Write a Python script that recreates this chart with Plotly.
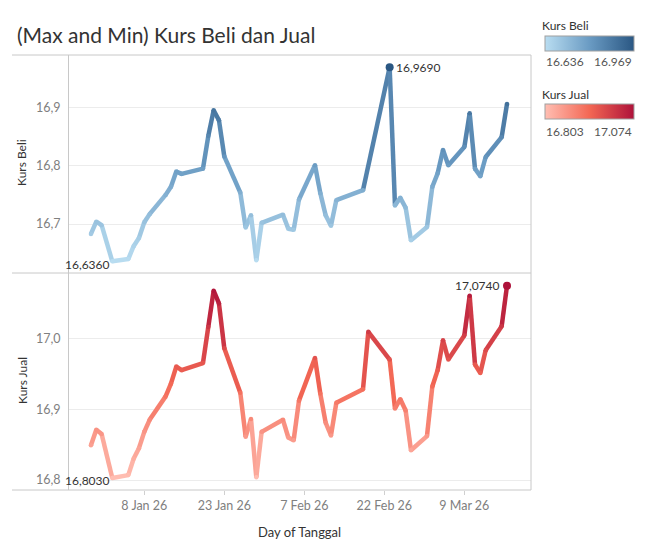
import plotly.graph_objects as go
from plotly.colors import sample_colorscale

# Kurs harian
tanggal_beli = [
    "2025-12-29", "2025-12-30", "2025-12-31", "2026-01-02", "2026-01-05",
    "2026-01-06", "2026-01-07", "2026-01-08", "2026-01-09", "2026-01-12",
    "2026-01-13", "2026-01-14", "2026-01-15", "2026-01-19", "2026-01-20",
    "2026-01-21", "2026-01-22", "2026-01-23", "2026-01-26", "2026-01-27",
    "2026-01-28", "2026-01-29", "2026-01-30", "2026-02-03", "2026-02-04",
    "2026-02-05", "2026-02-06", "2026-02-09", "2026-02-10", "2026-02-11",
    "2026-02-12", "2026-02-13", "2026-02-18", "2026-02-23", "2026-02-24",
    "2026-02-25", "2026-02-26", "2026-02-27", "2026-03-02", "2026-03-03",
    "2026-03-04", "2026-03-05", "2026-03-06", "2026-03-09", "2026-03-10",
    "2026-03-11", "2026-03-12", "2026-03-13", "2026-03-16", "2026-03-17",
]
kurs_beli = [
    16.683, 16.704, 16.698, 16.636, 16.640,
    16.662, 16.676, 16.703, 16.717, 16.750,
    16.764, 16.790, 16.786, 16.795, 16.851,
    16.895, 16.878, 16.816, 16.754, 16.694,
    16.715, 16.638, 16.702, 16.716, 16.692,
    16.690, 16.742, 16.801, 16.753, 16.715,
    16.697, 16.741, 16.758, 16.969, 16.732,
    16.745, 16.728, 16.672, 16.695, 16.764,
    16.787, 16.827, 16.801, 16.832, 16.890,
    16.795, 16.782, 16.815, 16.849, 16.906,
]

tanggal_jual = [
    "2025-12-29", "2025-12-30", "2025-12-31", "2026-01-02", "2026-01-05",
    "2026-01-06", "2026-01-07", "2026-01-08", "2026-01-09", "2026-01-12",
    "2026-01-13", "2026-01-14", "2026-01-15", "2026-01-19", "2026-01-20",
    "2026-01-21", "2026-01-22", "2026-01-23", "2026-01-26", "2026-01-27",
    "2026-01-28", "2026-01-29", "2026-01-30", "2026-02-03", "2026-02-04",
    "2026-02-05", "2026-02-06", "2026-02-09", "2026-02-10", "2026-02-11",
    "2026-02-12", "2026-02-13", "2026-02-18", "2026-02-19", "2026-02-23",
    "2026-02-24", "2026-02-25", "2026-02-26", "2026-02-27", "2026-03-02",
    "2026-03-03", "2026-03-04", "2026-03-05", "2026-03-06", "2026-03-09",
    "2026-03-10", "2026-03-11", "2026-03-12", "2026-03-13", "2026-03-16",
    "2026-03-17",
]
kurs_jual = [
    16.849, 16.871, 16.865, 16.803, 16.807,
    16.830, 16.845, 16.868, 16.885, 16.918,
    16.936, 16.960, 16.955, 16.965, 17.016,
    17.067, 17.049, 16.986, 16.923, 16.861,
    16.886, 16.804, 16.868, 16.885, 16.860,
    16.856, 16.912, 16.972, 16.922, 16.881,
    16.863, 16.909, 16.928, 17.009, 16.970,
    16.901, 16.914, 16.898, 16.842, 16.862,
    16.932, 16.955, 16.997, 16.970, 17.004,
    17.060, 16.963, 16.951, 16.983, 17.017,
    17.074,
]

tick_tanggal = ["2026-01-08", "2026-01-23", "2026-02-07", "2026-02-22", "2026-03-09"]
tick_label = ["8 Jan 26", "23 Jan 26", "7 Feb 26", "22 Feb 26", "9 Mar 26"]

blues = [[0, "#b9ddf1"], [0.5, "#6a9bc3"], [1, "#2a5783"]]
reds = [[0, "#ffbeb2"], [0.5, "#f36754"], [1, "#ae123a"]]

W, H = 649, 559
OFF = 8  # the page body has an 8px margin
FONT = "Lato"


def px_x(p):
    return (p - OFF) / W


def px_y(p):
    return 1 - (p - OFF) / H


def add_series(fig, dates, vals, cscale, yref, cb_y):
    lo, hi = min(vals), max(vals)
    # one trace per segment so the colour follows the value
    for i in range(len(vals) - 1):
        t = ((vals[i] + vals[i + 1]) / 2 - lo) / (hi - lo)
        c = sample_colorscale(cscale, [t])[0]
        fig.add_trace(go.Scatter(
            x=[dates[i], dates[i + 1]], y=[vals[i], vals[i + 1]],
            mode="lines", line=dict(color=c, width=4.5),
            yaxis=yref, hoverinfo="skip", showlegend=False))
    fig.add_trace(go.Scatter(
        x=dates, y=vals, mode="markers", yaxis=yref, showlegend=False,
        marker=dict(size=4.5, color=vals, colorscale=cscale, cmin=lo, cmax=hi,
                    showscale=True,
                    colorbar=dict(orientation="h", x=px_x(589), xanchor="center",
                                  y=px_y(cb_y), yanchor="middle",
                                  lenmode="pixels", len=89, thickness=15,
                                  xpad=0, ypad=0,
                                  outlinecolor="#a0a0a0", outlinewidth=1,
                                  showticklabels=False, ticks=""))))
    imax = vals.index(hi)
    fig.add_trace(go.Scatter(
        x=[dates[imax]], y=[hi], mode="markers", yaxis=yref, showlegend=False,
        marker=dict(size=8, color=sample_colorscale(cscale, [1.0])[0])))
    return lo, hi, imax


fig = go.Figure()
b_lo, b_hi, b_imax = add_series(fig, tanggal_beli, kurs_beli, blues, "y", 44)
j_lo, j_hi, j_imax = add_series(fig, tanggal_jual, kurs_jual, reds, "y2", 112)


def koma(v):
    return f"{v:.4f}".replace(".", ",")


def teks(x, y, s, size=12, color="#333333", xanchor="left", **kw):
    return dict(x=px_x(x), y=px_y(y), xref="paper", yref="paper", xanchor=xanchor,
                yanchor="middle", showarrow=False, text=s,
                font=dict(family=FONT, size=size, color=color), **kw)


lab_font = dict(family=FONT, size=12, color="#333333")
annotations = [
    dict(x=tanggal_beli[b_imax], y=b_hi, yref="y", text=koma(b_hi), showarrow=False,
         xanchor="left", yanchor="middle", xshift=4, font=lab_font),
    dict(x=tanggal_beli[kurs_beli.index(b_lo)], y=b_lo, yref="y", text=koma(b_lo),
         showarrow=False, xanchor="right", yanchor="middle", xshift=0, yshift=-3,
         font=lab_font),
    dict(x=tanggal_jual[j_imax], y=j_hi, yref="y2", text=koma(j_hi), showarrow=False,
         xanchor="right", yanchor="middle", xshift=-5, font=lab_font),
    dict(x=tanggal_jual[kurs_jual.index(j_lo)], y=j_lo, yref="y2", text=koma(j_lo),
         showarrow=False, xanchor="right", yanchor="middle", xshift=0, yshift=-3,
         font=lab_font),
    teks(15, 35, "(Max and Min) Kurs Beli dan Jual", size=21),
    teks(22, 163, "Kurs Beli", xanchor="center", textangle=-90),
    teks(22, 381, "Kurs Jual", xanchor="center", textangle=-90),
    teks(299, 532, "Day of Tanggal", size=13, xanchor="center"),
    # colour legends
    teks(540, 26, "Kurs Beli"),
    teks(544, 62, f"{b_lo:.3f}", color="#555555"),
    teks(634, 62, f"{b_hi:.3f}", color="#555555", xanchor="right"),
    teks(540, 94, "Kurs Jual"),
    teks(544, 131, f"{j_lo:.3f}", color="#555555"),
    teks(634, 131, f"{j_hi:.3f}", color="#555555", xanchor="right"),
]

border = dict(color="#c8c8c8", width=1)
shapes = []
for yy in [55, 273, 490]:
    shapes.append(dict(type="line", xref="paper", yref="paper", x0=px_x(12), x1=px_x(531),
                       y0=px_y(yy), y1=px_y(yy), line=border))
for xx in [68.5, 531]:
    shapes.append(dict(type="line", xref="paper", yref="paper", x0=px_x(xx), x1=px_x(xx),
                       y0=px_y(55), y1=px_y(490), line=border))

tick_font = dict(family=FONT, size=12.5, color="#808080")
fig.update_layout(
    width=W, height=H, margin=dict(l=0, r=0, t=0, b=0),
    paper_bgcolor="white", plot_bgcolor="white",
    separators=",.",
    showlegend=False,
    annotations=annotations, shapes=shapes,
    xaxis=dict(domain=[px_x(68.5), px_x(531)], anchor="y2", type="date",
               range=["2025-12-24 19:00", "2026-03-21 12:00"],
               tickvals=tick_tanggal, ticktext=tick_label,
               ticks="outside", ticklen=4, tickcolor="#d0d0d0",
               showgrid=False, zeroline=False, showline=False, tickfont=tick_font),
    yaxis=dict(domain=[px_y(273), px_y(55)], anchor="x", range=[16.616, 16.990],
               tickvals=[16.7, 16.8, 16.9], tickformat=".1f", ticks="",
               ticklabelstandoff=7,
               gridcolor="#ececec", zeroline=False, showline=False, tickfont=tick_font),
    yaxis2=dict(domain=[px_y(490), px_y(273)], anchor="x", range=[16.786, 17.092],
                tickvals=[16.8, 16.9, 17.0], tickformat=".1f", ticks="",
                ticklabelstandoff=7,
                gridcolor="#ececec", zeroline=False, showline=False, tickfont=tick_font),
)

fig.write_html("out.html")
